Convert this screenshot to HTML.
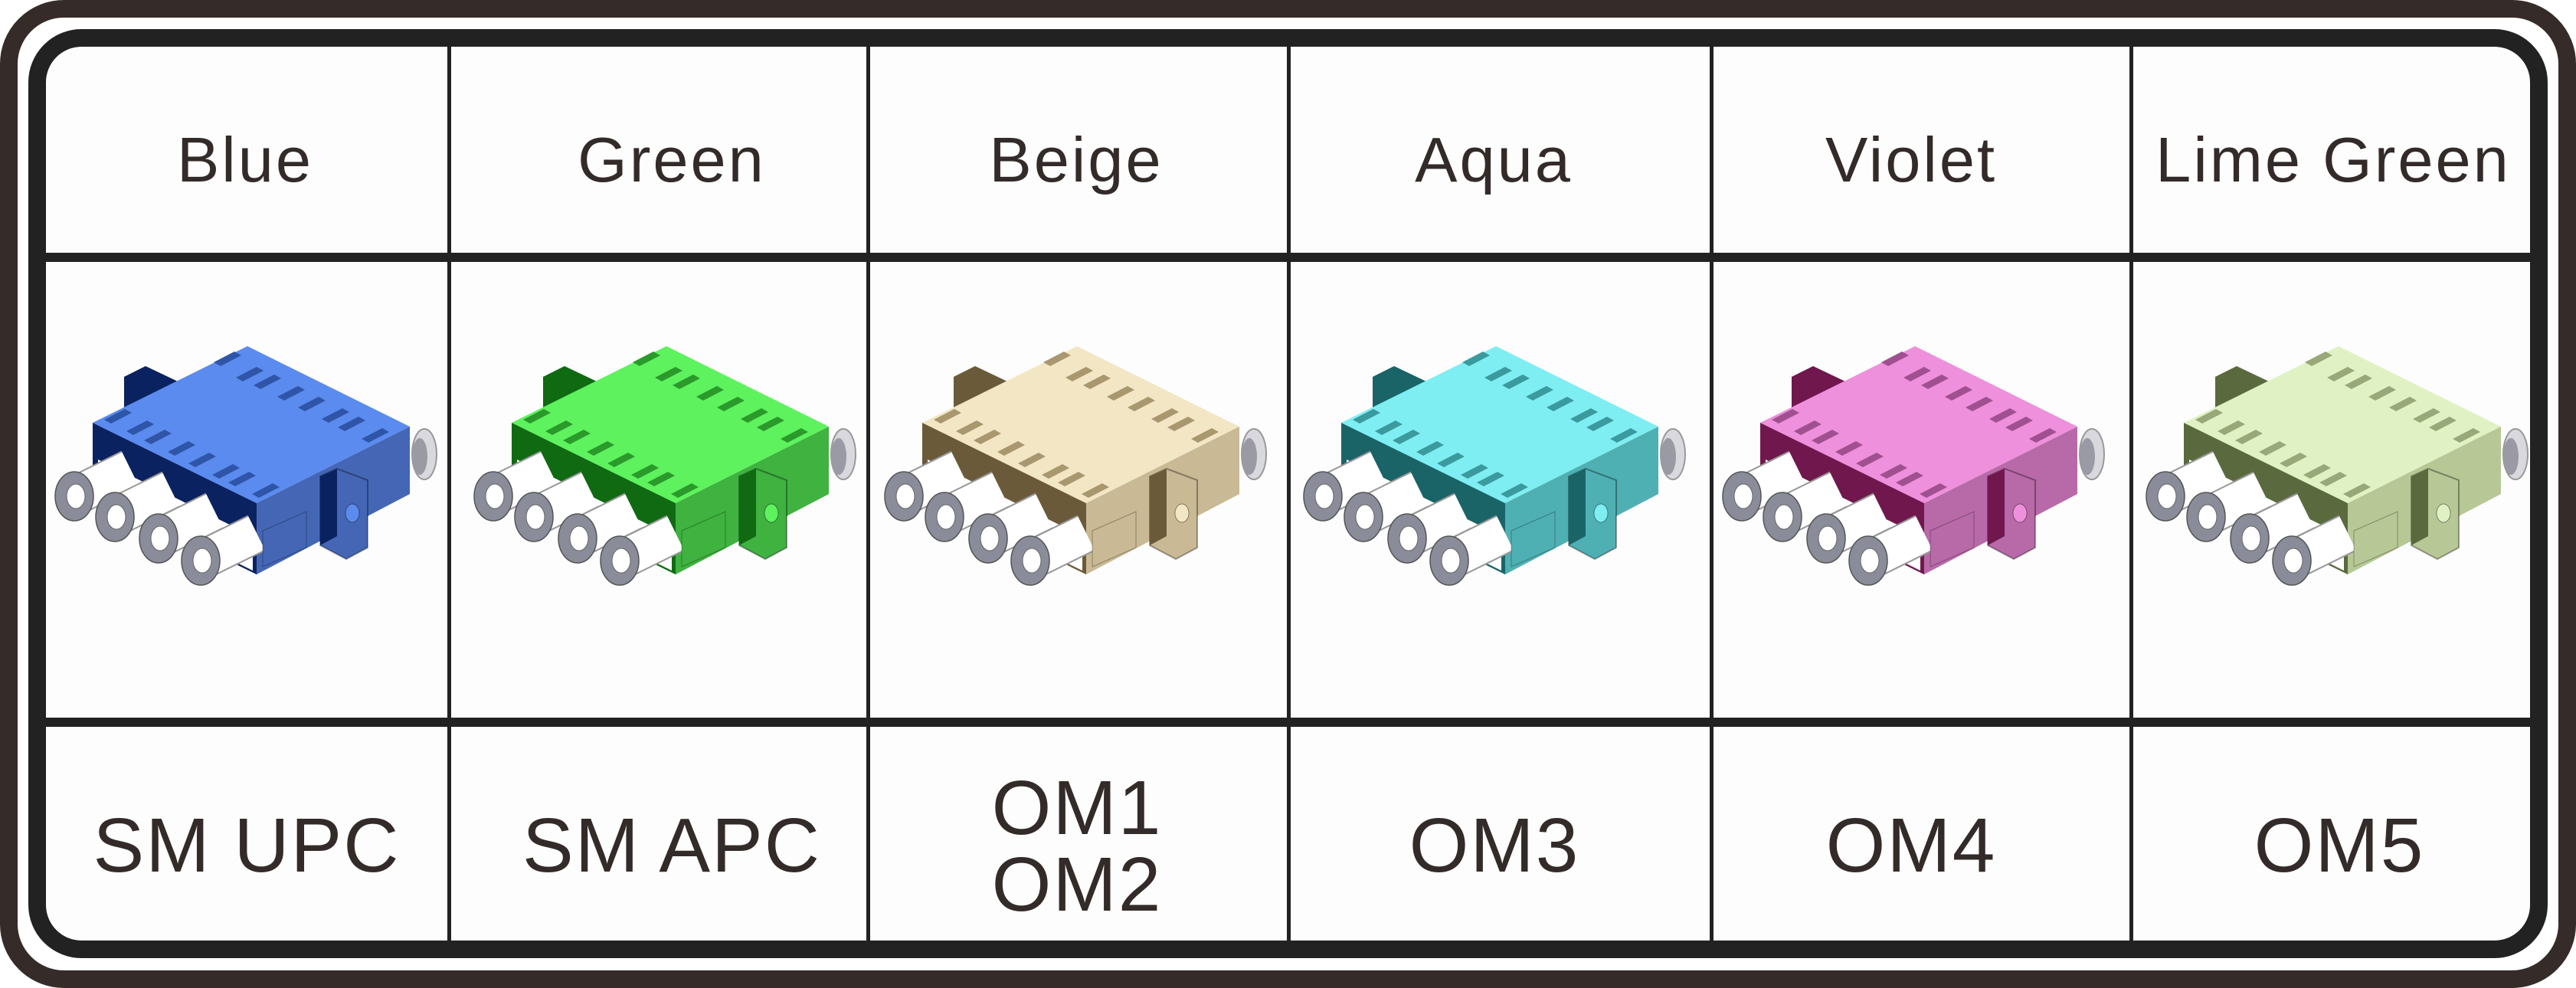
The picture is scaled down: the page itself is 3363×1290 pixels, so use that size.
<!DOCTYPE html>
<html><head><meta charset="utf-8"><style>
html,body{margin:0;padding:0;background:#fff;}
svg{display:block;}
text{font-family:"Liberation Sans",sans-serif;fill:#332b29;}
</style></head><body>
<svg width="3363" height="1290" viewBox="0 0 3363 1290" xmlns="http://www.w3.org/2000/svg">
<defs>
<path id="slot" d="M-18,5 L9,-9 L18,-4 L-9,10 Z"/>
<g id="conn">
  <ellipse cx="554" cy="593" rx="16" ry="33" fill="#d8d8de" stroke="#999" stroke-width="2"/>
  <ellipse cx="548" cy="596" rx="10" ry="24" fill="#9a9aa4"/>
  <polygon points="162,492 190,478 232,498 232,560 162,560" style="fill:var(--dk)"/>
  <polygon points="121,552 323,452 535,557 335,657" style="fill:var(--tp)"/>
  <polygon points="335,657 535,557 535,645 335,750" style="fill:var(--rt)"/>
  <polygon points="121,552 335,657 335,750 121,645" style="fill:var(--dk)"/>
  <polygon points="128,600 330,700 330,745 128,645" fill="#ffffff"/>
  <g stroke-linecap="butt">
    <line x1="97" y1="648" x2="170" y2="612" stroke="#999" stroke-width="52"/>
    <line x1="97" y1="648" x2="170" y2="612" stroke="#fff" stroke-width="48"/>
    <line x1="150" y1="675" x2="223" y2="639" stroke="#999" stroke-width="52"/>
    <line x1="150" y1="675" x2="223" y2="639" stroke="#fff" stroke-width="48"/>
    <line x1="207" y1="703" x2="280" y2="667" stroke="#999" stroke-width="52"/>
    <line x1="207" y1="703" x2="280" y2="667" stroke="#fff" stroke-width="48"/>
    <line x1="262" y1="732" x2="335" y2="696" stroke="#999" stroke-width="52"/>
    <line x1="262" y1="732" x2="335" y2="696" stroke="#fff" stroke-width="48"/>
  </g>
  <g fill="#8a8c99" stroke="#555" stroke-width="1.5">
    <ellipse cx="97" cy="648" rx="25" ry="32"/>
    <ellipse cx="150" cy="675" rx="25" ry="32"/>
    <ellipse cx="207" cy="703" rx="25" ry="32"/>
    <ellipse cx="262" cy="732" rx="25" ry="32"/>
  </g>
  <g fill="#fff" stroke="#666" stroke-width="1">
    <ellipse cx="99" cy="648" rx="12" ry="16"/>
    <ellipse cx="152" cy="675" rx="12" ry="16"/>
    <ellipse cx="209" cy="703" rx="12" ry="16"/>
    <ellipse cx="264" cy="732" rx="12" ry="16"/>
  </g>
  <polygon points="418,622 440,612 480,627 480,715 452,730 418,712" style="fill:var(--rt)" stroke="rgba(0,0,0,0.35)" stroke-width="2"/>
  <polygon points="418,622 440,612 440,700 418,712" style="fill:var(--dk)"/>
  <ellipse cx="460" cy="670" rx="9" ry="12" style="fill:var(--tp)" stroke="rgba(0,0,0,0.4)"/>
  <polygon points="343,693 400,668 400,715 343,740" style="fill:var(--rt)" stroke="rgba(0,0,0,0.3)"/>
  <g style="fill:var(--sl)">
    <use href="#slot" x="154" y="543"/><use href="#slot" x="183" y="558"/>
    <use href="#slot" x="206" y="570"/><use href="#slot" x="237" y="585"/>
    <use href="#slot" x="264" y="600"/><use href="#slot" x="295" y="615"/>
    <use href="#slot" x="316" y="625"/><use href="#slot" x="347" y="640"/>
    <use href="#slot" x="297" y="468"/><use href="#slot" x="326" y="488"/>
    <use href="#slot" x="349" y="498"/><use href="#slot" x="380" y="513"/>
    <use href="#slot" x="407" y="527"/><use href="#slot" x="438" y="542"/>
    <use href="#slot" x="459" y="553"/><use href="#slot" x="490" y="568"/>
  </g>
</g>
</defs>

<rect x="11.5" y="11.5" width="3340" height="1267" rx="72" fill="#fff" stroke="#352b29" stroke-width="23"/>
<rect x="48.5" y="49.5" width="3266" height="1190" rx="58" fill="#fdfdfd" stroke="#222" stroke-width="23"/>
<rect x="60" y="330" width="3243" height="12" fill="#222"/>
<rect x="60" y="937" width="3243" height="12" fill="#222"/>
<rect x="584" y="61" width="5" height="1167" fill="#222"/>
<rect x="1131" y="61" width="5" height="1167" fill="#222"/>
<rect x="1680" y="61" width="5" height="1167" fill="#222"/>
<rect x="2232" y="61" width="5" height="1167" fill="#222"/>
<rect x="2780" y="61" width="5" height="1167" fill="#222"/>

<g font-size="83" letter-spacing="3" text-anchor="middle">
  <text x="320" y="237">Blue</text>
  <text x="877" y="237">Green</text>
  <text x="1405" y="237">Beige</text>
  <text x="1950" y="237">Aqua</text>
  <text x="2495" y="237">Violet</text>
  <text x="3046" y="237">Lime Green</text>
</g>
<g font-size="100" letter-spacing="2" text-anchor="middle">
  <text x="322" y="1138">SM UPC</text>
  <text x="877" y="1138">SM APC</text>
  <text x="1406" y="1089">OM1</text>
  <text x="1406" y="1189">OM2</text>
  <text x="1951" y="1138">OM3</text>
  <text x="2495" y="1138">OM4</text>
  <text x="3054" y="1138">OM5</text>
</g>

<use href="#conn" x="0" y="0" style="--tp:#5b8bee;--rt:#4466b5;--dk:#0b2260;--sl:#2f55a8"/>
<use href="#conn" x="547" y="0" style="--tp:#5ef25e;--rt:#3fb23f;--dk:#0f6a12;--sl:#2a9a2a"/>
<use href="#conn" x="1083" y="0" style="--tp:#f2e6c4;--rt:#c9b994;--dk:#6b5a3a;--sl:#a8976f"/>
<use href="#conn" x="1630" y="0" style="--tp:#7eeef2;--rt:#4fb0b4;--dk:#1a6468;--sl:#3a9a9e"/>
<use href="#conn" x="2177" y="0" style="--tp:#ee90dc;--rt:#b86aa8;--dk:#70184e;--sl:#a05090"/>
<use href="#conn" x="2730" y="0" style="--tp:#e0f2c4;--rt:#b7c896;--dk:#5b6a3e;--sl:#98a878"/>
</svg>
</body></html>
